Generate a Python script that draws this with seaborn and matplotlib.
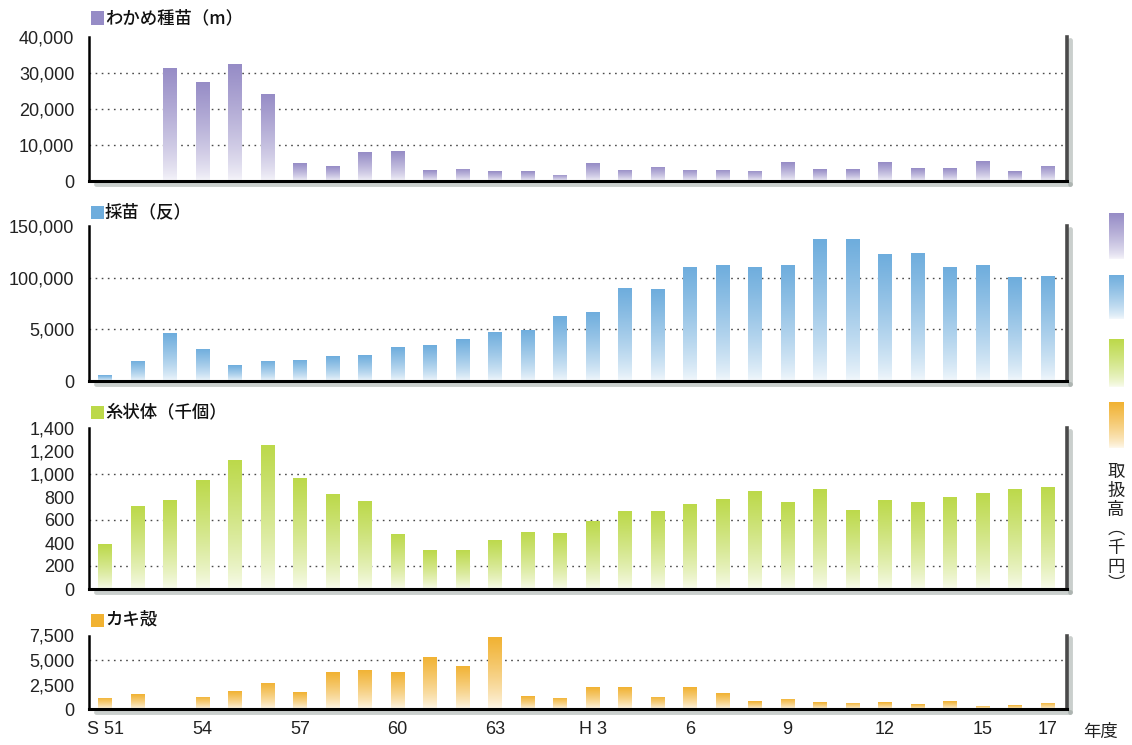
import numpy as np
import pandas as pd
import matplotlib
matplotlib.use("Agg")
import matplotlib.pyplot as plt
import matplotlib.transforms as mtransforms
import seaborn as sns
from matplotlib.colors import to_rgb
from matplotlib.patches import Rectangle
from matplotlib.lines import Line2D

# ---- data -------------------------------------------------------------
years = [f"S{y}" for y in range(51, 64)] + [f"H{y}" for y in range(1, 18)]

wakame = [0, 0, 31500, 27600, 32500, 24300, 5000, 4100, 8000, 8300, 3000, 3400, 2700,
          2700, 1800, 4900, 3100, 3900, 3100, 3100, 2800, 5200, 3200, 3200, 5200, 3600,
          3500, 5500, 2700, 4300]
saibyo = [5500, 19400, 46100, 31300, 15200, 19700, 20600, 23900, 24800, 32600, 34800,
          40300, 47700, 49700, 62700, 67200, 89900, 89000, 110400, 112700, 110400, 112700,
          137000, 137000, 122700, 124000, 110400, 112700, 100300, 102000]
shijotai = [387, 721, 778, 948, 1124, 1253, 965, 822, 764, 482, 335, 341, 430, 496, 491,
            594, 677, 680, 737, 783, 851, 754, 866, 691, 774, 754, 800, 837, 871, 889]
kakigara = [1150, 1500, 0, 1250, 1800, 2700, 1700, 3730, 3980, 3730, 5330, 4400, 7300,
            1300, 1140, 2200, 2240, 1240, 2240, 1630, 780, 1030, 670, 640, 670, 500, 780,
            355, 390, 640]

shown_years = {"S51": "S 51", "S54": "54", "S57": "57", "S60": "60", "S63": "63",
               "H3": "H 3", "H6": "6", "H9": "9", "H12": "12", "H15": "15", "H17": "17"}

titles = ["わかめ種苗（m）", "採苗（反）", "糸状体（千個）", "カキ殻"]
series = [wakame, saibyo, shijotai, kakigara]
colors = ["#968cc6", "#6eaddd", "#bcd94a", "#f1b232"]

y_max = [40000, 150000, 1400, 7500]
y_ticks = [[0, 10000, 20000, 30000, 40000],
           [0, 50000, 100000, 150000],
           list(range(0, 1401, 200)),
           [0, 2500, 5000, 7500]]
y_tick_text = [["0", "10,000", "20,000", "30,000", "40,000"],
               ["0", "5,000", "100,000", "150,000"],
               ["0", "200", "400", "600", "800", "1,000", "1,200", "1,400"],
               ["0", "2,500", "5,000", "7,500"]]
grid_vals = [[10000, 20000, 30000], [50000, 100000], [200, 600, 1000], [5000]]

# ---- style ------------------------------------------------------------
sns.set_style("white")
plt.rcParams["font.family"] = ["Liberation Sans", "Noto Sans CJK JP", "DejaVu Sans"]
JP = ["Noto Sans CJK JP", "DejaVu Sans"]

W, H = 1132, 745
fig = plt.figure(figsize=(W / 100, H / 100), dpi=100)

# panel vertical extents in pixels (top, bottom)
extent_px = [(37, 181), (226, 381), (428, 589), (635.5, 709)]
title_y = [18, 212, 412, 620]
left_px, right_px = 89, 1067


def gradient(color, n=96):
    c = np.array(to_rgb(color))
    t = np.linspace(0, 1, n) ** 0.75
    m = 0.08 + 0.92 * t
    rgb = (1 - m)[:, None] * np.ones(3) + m[:, None] * c
    return rgb[:, None, :]


for i, (vals, col) in enumerate(zip(series, colors)):
    top, bot = extent_px[i]
    ax = fig.add_axes([left_px / W, 1 - bot / H, (right_px - left_px) / W, (bot - top) / H])
    df = pd.DataFrame({"year": years, "value": vals})
    sns.barplot(data=df, x="year", y="value", order=years, color=col, width=0.42,
                saturation=1, ax=ax, zorder=2)

    # fade each bar from full colour at the top to pale at the base
    img = gradient(col)
    for p in list(ax.patches):
        h = p.get_height()
        if h <= 0:
            continue
        x0, y0, w = p.get_x(), p.get_y(), p.get_width()
        im = ax.imshow(img, extent=[x0, x0 + w, y0, y0 + h], origin="lower",
                       aspect="auto", interpolation="bilinear", zorder=2)
        im.set_clip_path(p)
        p.set_facecolor("none")
        p.set_edgecolor("none")

    for g in grid_vals[i]:
        ax.axhline(g, color="#4a4a4a", lw=1.0, ls=(0, (1.2, 3.2)), zorder=1)

    ax.set_xlim(-0.5, 29.6)
    ax.set_ylim(0, y_max[i])
    ax.set_yticks(y_ticks[i], y_tick_text[i])
    ax.tick_params(axis="y", length=0, labelsize=13, pad=10.5, labelcolor="#222222")
    ax.set_xlabel("")
    ax.set_ylabel("")

    ax.set_xticks(np.arange(0.5, 29, 1), minor=True)
    ax.tick_params(axis="x", which="minor", direction="in", length=5, width=1.5,
                   color="black")
    if i == 3:
        pos = [years.index(k) for k in shown_years]
        ax.set_xticks(pos, list(shown_years.values()))
        ax.tick_params(axis="x", which="major", length=0, labelsize=13, pad=9,
                       labelcolor="#222222")
    else:
        ax.set_xticks([])

    ax.spines["top"].set_visible(False)
    ax.spines["left"].set_color("black")
    ax.spines["left"].set_linewidth(1.8)
    ax.spines["bottom"].set_color("black")
    ax.spines["bottom"].set_linewidth(2.2)
    ax.spines["right"].set_color("#4a4a4a")
    ax.spines["right"].set_linewidth(2.6)

    # soft drop shadow along the bottom and right edges
    sh = mtransforms.offset_copy(ax.transAxes, fig=fig, x=2.5, y=-2.5, units="dots")
    for xs, ys in (([0.005, 1.0], [0, 0]), ([1.0, 1.0], [0, 1.0])):
        ax.add_line(Line2D(xs, ys, transform=sh, color="#8a9590", lw=3.5, alpha=0.45,
                           clip_on=False, zorder=0.5))

    # panel title with coloured square
    fig.add_artist(Rectangle((91 / W, 1 - (title_y[i] + 6.5) / H), 13 / W, 13 / H,
                             transform=fig.transFigure, color=col, lw=0))
    fig.text(105 / W, 1 - title_y[i] / H, titles[i], family=JP, fontsize=12.5,
             fontweight="medium", ha="left", va="center", color="#111111")

fig.text(1101 / W, 1 - 732 / H, "年度", family=JP, fontsize=12.5, ha="center",
         va="center", color="#222222")

# colour key down the right-hand side
swatches = [(213, 259), (275, 319), (339, 387), (402, 448)]
for (t, b), col in zip(swatches, colors):
    sax = fig.add_axes([1109 / W, 1 - b / H, 15 / W, (b - t) / H])
    sax.imshow(gradient(col), origin="lower", aspect="auto", interpolation="bilinear")
    sax.set_axis_off()

vert_chars = ["取", "扱", "高", "︵", "千", "円", "︶"]
vert_y = [472, 491, 510, 529, 548, 567, 584]
for ch, yy in zip(vert_chars, vert_y):
    fig.text(1116 / W, 1 - yy / H, ch, family=JP, fontsize=12.5, ha="center",
             va="center", color="#222222")

fig.savefig("out.png", dpi=100, facecolor="white")
